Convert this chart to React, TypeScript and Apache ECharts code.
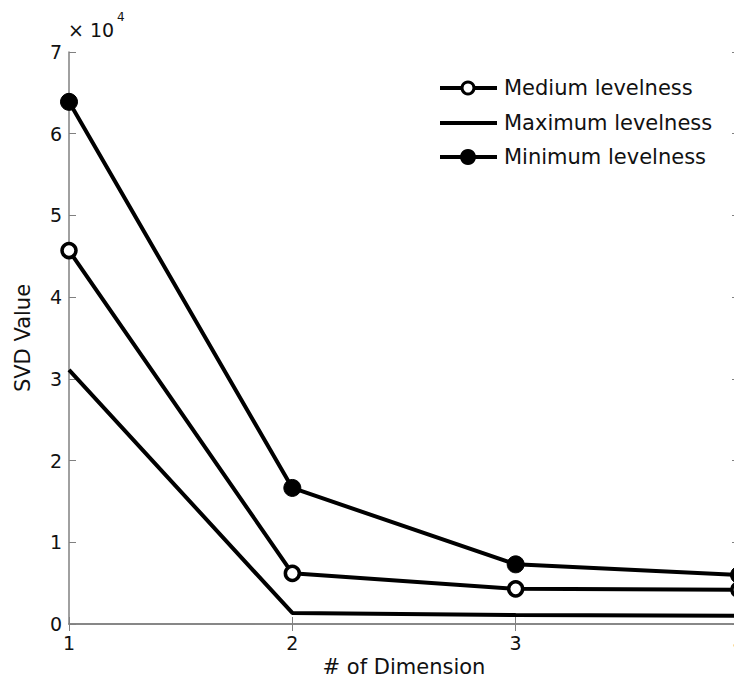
import React, { useEffect, useRef } from "react";
import * as echarts from "echarts";

const dimensions = [1, 2, 3, 4];
const mediumLevelness = [45700, 6200, 4300, 4200];
const maximumLevelness = [31100, 1350, 1100, 1000];
const minimumLevelness = [63900, 16650, 7300, 6000];
const seriesNames = ["Medium levelness", "Maximum levelness", "Minimum levelness"];
const yTicks = [0, 1, 2, 3, 4, 5, 6, 7];

const FONT = "DejaVu Sans, Verdana, sans-serif";

export default function App() {
  const ref = useRef<HTMLDivElement>(null);
  useEffect(() => {
    if (!ref.current) return;
    const chart = echarts.init(ref.current, null, { renderer: "svg" });
    const toPairs = (arr: number[]) => arr.map((v, i) => [dimensions[i], v / 10000]);
    const axisLine = { show: true, lineStyle: { color: "#808080", width: 1.5 } };
    const tick = { show: true, inside: true, length: 7, lineStyle: { color: "#808080" } };

    // legend drawn as graphic elements
    const legendX = 440;
    const legendRows = [88, 123, 157];
    const legendGraphics: any[] = [];
    seriesNames.forEach((name, i) => {
      const y = legendRows[i];
      legendGraphics.push({
        type: "line",
        shape: { x1: legendX, y1: y, x2: legendX + 57, y2: y },
        style: { stroke: "#000", lineWidth: 4 },
      });
      if (i === 0) {
        legendGraphics.push({
          type: "circle",
          shape: { cx: legendX + 28, cy: y, r: 6 },
          style: { fill: "#fff", stroke: "#000", lineWidth: 3 },
        });
      } else if (i === 2) {
        legendGraphics.push({
          type: "circle",
          shape: { cx: legendX + 28, cy: y, r: 8 },
          style: { fill: "#000" },
        });
      }
      legendGraphics.push({
        type: "text",
        x: legendX + 64,
        y,
        style: {
          text: name,
          fontSize: 21,
          fill: "#111",
          fontFamily: FONT,
          verticalAlign: "middle",
        },
      });
    });

    chart.setOption({
      animation: false,
      backgroundColor: "#fff",
      textStyle: { fontFamily: FONT },
      grid: {
        left: 69,
        right: 3,
        top: 52,
        bottom: 62,
        containLabel: false,
        outerBoundsMode: "none",
      },
      xAxis: [
        {
          type: "value",
          min: 1,
          max: 4,
          interval: 1,
          name: "# of Dimension",
          nameLocation: "middle",
          nameGap: 24,
          nameTextStyle: { fontSize: 21, color: "#111", fontFamily: FONT },
          axisLine,
          axisTick: tick,
          axisLabel: { fontSize: 19, color: "#111", margin: 9, fontFamily: FONT },
          splitLine: { show: false },
        },
        {
          type: "value",
          position: "top",
          min: 1,
          max: 4,
          interval: 1,
          axisLine,
          axisTick: tick,
          axisLabel: { show: false },
          splitLine: { show: false },
        },
      ],
      yAxis: [
        {
          type: "value",
          min: 0,
          max: 7,
          interval: 1,
          name: "SVD Value",
          nameLocation: "middle",
          nameGap: 36,
          nameTextStyle: { fontSize: 21, color: "#111", fontFamily: FONT },
          axisLine,
          axisTick: tick,
          axisLabel: {
            fontSize: 19,
            color: "#111",
            margin: 7,
            fontFamily: FONT,
            formatter: (v: number) => (yTicks.includes(v) ? String(v) : ""),
          },
          splitLine: { show: false },
        },
        {
          type: "value",
          position: "right",
          min: 0,
          max: 7,
          interval: 1,
          axisLine,
          axisTick: tick,
          axisLabel: { show: false },
          splitLine: { show: false },
        },
      ],
      graphic: [
        {
          type: "text",
          x: 68,
          y: 20,
          style: { text: "× 10", fontSize: 19, fill: "#111", fontFamily: FONT },
        },
        {
          type: "text",
          x: 117,
          y: 11,
          style: { text: "4", fontSize: 12, fill: "#111", fontFamily: FONT },
        },
        ...legendGraphics,
      ],
      series: [
        {
          name: seriesNames[0],
          type: "line",
          data: toPairs(mediumLevelness),
          symbol: "circle",
          symbolSize: 14,
          lineStyle: { color: "#000", width: 4 },
          itemStyle: { color: "#fff", borderColor: "#000", borderWidth: 3.5 },
          clip: false,
        },
        {
          name: seriesNames[1],
          type: "line",
          data: toPairs(maximumLevelness),
          symbol: "none",
          lineStyle: { color: "#000", width: 4 },
          itemStyle: { color: "#000" },
          clip: false,
        },
        {
          name: seriesNames[2],
          type: "line",
          data: toPairs(minimumLevelness),
          symbol: "circle",
          symbolSize: 17,
          lineStyle: { color: "#000", width: 4 },
          itemStyle: { color: "#000", borderColor: "#000" },
          clip: false,
        },
      ],
    });
    return () => chart.dispose();
  }, []);
  return <div ref={ref} style={{ width: 742, height: 686, margin: -8 }} />;
}
